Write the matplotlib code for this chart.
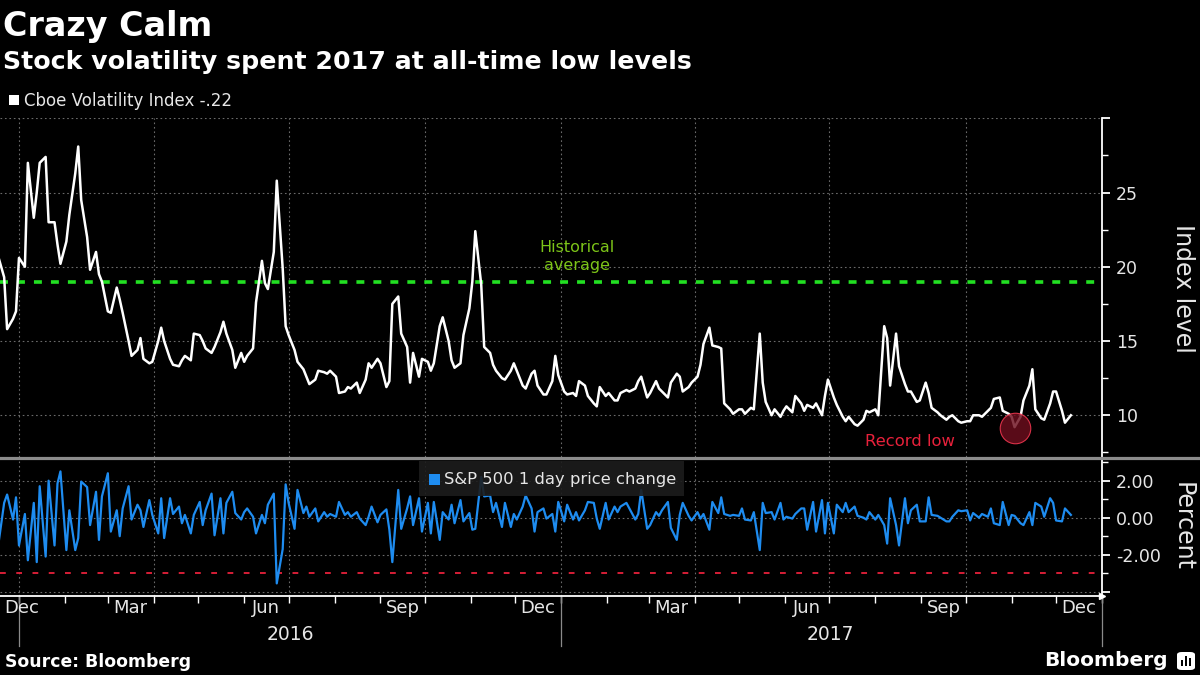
import numpy as np
import pandas as pd
import matplotlib
matplotlib.use("Agg")
import matplotlib.pyplot as plt
import matplotlib.dates as mdates
import matplotlib.ticker as mticker
import matplotlib.transforms as mtransforms
from matplotlib.lines import Line2D
from matplotlib.patches import Rectangle, FancyBboxPatch

plt.rcParams["font.family"] = ["DejaVu Sans"]
plt.rcParams["axes.unicode_minus"] = False

# ---------------- text ----------------
title = "Crazy Calm"
subtitle = "Stock volatility spent 2017 at all-time low levels"
vix_label = "Cboe Volatility Index -.22"
spx_label = "S&P 500 1 day price change"
source_text = "Source: Bloomberg"
brand = "Bloomberg"
avg_label = ["Historical", "average"]
low_label = "Record low"
vix_axis_label = "Index level"
spx_axis_label = "Percent"

# ---------------- data ----------------
start_date = "2015-12-18"   # one value every 2 business days

vix = [
    20.7, 19.3, 15.8, 16.5, 17.0, 20.6, 20.0, 27.0, 23.3, 25.0, 27.0, 27.4, 23.0, 23.0, 21.5, 20.2,
    21.7, 23.5, 26.3, 28.1, 24.5, 22.0, 19.8, 21.0, 19.5, 19.0, 17.0, 16.9, 18.6, 17.8, 16.9, 15.0,
    14.0, 14.4, 15.2, 13.8, 13.5, 13.6, 15.0, 15.9, 15.0, 13.8, 13.4, 13.3, 13.7, 14.0,
    13.7, 15.5, 15.4, 15.0, 14.5, 14.2, 14.6, 15.6, 16.3, 15.5, 14.4, 13.2, 14.2, 13.6, 14.0, 14.5,
    17.6, 20.4, 18.9, 18.5, 21.0, 25.8, 19.9, 16.0, 15.4, 14.4, 13.6, 13.1, 12.6, 12.1, 12.4, 13.0,
    12.9, 12.8, 13.0, 12.6, 11.5, 11.6, 11.9, 11.8, 12.2, 11.5, 12.4, 13.5,
    13.2, 13.8, 13.5, 11.9, 12.3, 17.5, 18.0, 15.5, 14.6, 12.2, 14.2, 12.6, 13.8, 13.6, 13.0, 13.5,
    16.0, 16.6, 15.0, 13.7, 13.2, 13.5, 15.4, 17.2, 19.0, 22.4, 18.8, 14.6, 14.2, 13.4, 13.0, 12.5,
    12.4, 13.0, 13.5, 13.0, 12.0, 11.8, 12.8, 13.0, 12.0, 11.4, 11.4, 12.3,
    14.0, 12.7, 11.6, 11.4, 11.5, 11.3, 12.3, 12.0, 11.3, 10.8, 10.6, 11.9, 11.3, 11.5, 11.0, 11.0,
    11.5, 11.7, 11.6, 11.8, 12.3, 12.6, 11.2, 11.5, 12.3, 11.8, 11.6, 11.2, 12.2, 12.8, 12.6, 11.6,
    11.9, 12.2, 12.6, 13.4, 14.8, 15.9, 14.7, 14.6, 14.5, 10.8, 10.4, 10.1, 10.4,
    10.4, 10.1, 10.5, 10.4, 15.5, 12.2, 10.9, 10.0, 10.4, 9.9, 10.3, 10.6, 10.2, 11.3, 10.8, 10.3,
    10.7, 10.5, 10.8, 10.0, 11.3, 12.4, 11.2, 10.7, 9.9, 9.6, 9.9, 9.4, 9.3, 9.7, 10.3, 10.2,
    10.4, 10.0, 16.0, 15.2, 12.0, 15.5, 13.3, 12.1, 11.6, 11.6, 10.9, 11.0,
    12.2, 11.5, 10.5, 10.2, 10.0, 9.7, 9.9, 10.0, 9.6, 9.5, 9.6, 9.6, 10.0, 10.0, 9.9, 10.3,
    10.5, 11.1, 11.2, 10.3, 10.1, 9.9, 9.2, 9.9, 11.0, 12.0, 13.1, 10.4, 9.8, 9.7, 10.8, 11.6,
    11.6, 10.3, 9.5, 10.0,
]

spx = [
    -1.5, 0.8, 1.25, -0.1, 1.1, -1.5, 0.2, -2.3, 0.8, -2.4, 1.7, -2.1, 2.0, -1.5, 1.85, 2.5,
    -1.75, 0.4, -1.75, -1.1, 1.95, 1.65, -0.4, 1.4, -1.2, 1.15, 2.4, -0.75, 0.4, -1.0, 0.5, 1.7,
    -0.1, 0.7, 0.4, -0.5, 0.95, 0.15, -0.85, 1.05, -1.1, 1.05, 0.2, 0.6, -0.3, 0.15,
    -0.85, 0.15, 0.85, -0.4, 0.4, 1.3, -0.95, 1.05, -0.85, 0.8, 1.4, 0.25, -0.1, 0.3, 0.5, 0.05,
    -0.85, 0.15, -0.3, 0.7, 1.3, -3.55, -1.7, 1.8, 0.8, -0.6, 1.5, 0.25, 0.6, 0.05, 0.5, -0.2,
    0.3, 0.05, 0.2, 0.05, 0.85, 0.15, 0.3, 0.05, 0.3, -0.05, -0.4, 0.05,
    0.6, -0.25, 0.15, 0.45, -0.65, -2.4, 1.5, -0.6, 0.5, 1.15, -0.4, 1.05, -0.75, 0.8, -0.85, 0.85,
    -1.2, 0.3, -0.1, 0.7, -0.3, 0.95, -0.2, 0.25, -0.65, -0.6, 2.2, 1.15, 1.2, 0.3, 0.8, -0.5,
    0.8, -0.5, 0.2, -0.1, 0.6, 1.2, 0.5, -0.75, 0.3, 0.5, -0.05, 0.2,
    -0.75, 0.85, -0.2, 0.7, -0.1, 0.3, -0.15, 0.4, 0.85, 0.8, -0.05, -0.6, 0.8, -0.1, 0.6, 0.3,
    0.6, 0.8, 0.5, -0.1, 0.2, 1.5, -0.6, -0.4, 0.3, 0.1, 0.4, 0.85, -0.55, -1.2, 0.15, 0.8,
    0.1, -0.15, 0.3, -0.05, 0.2, -0.65, 0.85, 0.25, 1.1, 0.2, 0.1, 0.15, 0.1,
    0.5, -0.1, -0.15, 0.3, -1.75, 0.8, 0.25, 0.3, -0.1, 0.8, -0.1, 0.05, -0.05, 0.2, 0.5, 0.5,
    -0.65, 0.85, -0.75, 0.95, -0.85, 0.8, -0.85, 0.7, 0.3, 0.8, 0.3, 0.6, 0.1, 0.0, -0.1, 0.3,
    -0.1, 0.15, -0.4, -1.4, 1.05, -0.4, -1.5, 1.05, -0.3, 0.4, 0.7, -0.2,
    -0.2, 1.1, 0.15, 0.1, 0.0, -0.2, -0.2, 0.05, 0.4, 0.35, 0.4, -0.15, 0.25, 0.0, 0.2, 0.05,
    0.5, -0.3, -0.4, 0.85, -0.4, 0.15, 0.1, -0.3, -0.4, 0.3, -0.4, 0.8, 0.6, 0.05, 1.05, 0.8,
    -0.15, -0.2, 0.5, 0.15,
]

hist_avg = 19.0
spx_ref_level = -3.0
record_low_date = "2017-11-03"
record_low_value = 9.14

vix_major = [10, 15, 20, 25, 30]
vix_major_labels = ["10", "15", "20", "25", ""]
vix_minor = [7.5, 12.5, 17.5, 22.5, 27.5]
spx_major = [-4, -2, 0, 2]
spx_major_labels = ["", "-2.00", "0.00", "2.00"]
spx_minor = [-3, -1, 1, 3]

month_labels = ["Dec", "Mar", "Jun", "Sep", "Dec", "Mar", "Jun", "Sep", "Dec"]
month_label_dates = ["2015-12-16", "2016-03-16", "2016-06-16", "2016-09-16", "2016-12-16",
                     "2017-03-16", "2017-06-16", "2017-09-16", "2017-12-16"]
year_labels = ["2016", "2017"]
year_label_dates = ["2016-07-02", "2017-07-02"]
year_bounds = ["2016-01-01", "2017-01-01", "2018-01-01"]
grid_dates = ["2016-01-01", "2016-04-01", "2016-07-01", "2016-10-01",
              "2017-01-01", "2017-04-01", "2017-07-01", "2017-10-01"]
x_start = pd.Timestamp("2016-01-01") - pd.Timedelta(days=12.8)
x_end = pd.Timestamp("2018-01-01")

# ---------------- style ----------------
BG = "#000000"
WHITE = "#ffffff"
TXT = "#e6e6e6"
GRID = "#6a6a6a"
BLUE = "#1e8cf0"
GREEN = "#22e022"
GREEN_TXT = "#7cc418"
RED = "#e8213b"

vix_dates = pd.bdate_range(start_date, periods=len(vix), freq="2B")
spx_dates = pd.bdate_range(start_date, periods=len(spx), freq="2B")

W, H = 1200, 675
def fx(px):
    return px / W
def fy(py):
    return 1 - py / H

fig = plt.figure(figsize=(12, 6.75), dpi=100, facecolor=BG)

ax1 = fig.add_axes([0, fy(457), fx(1102), fy(118.3) - fy(457)])
ax2 = fig.add_axes([0, fy(596), fx(1102), fy(459) - fy(596)])

for ax in (ax1, ax2):
    ax.set_facecolor(BG)
    for s in ax.spines.values():
        s.set_visible(False)
    ax.spines["right"].set_visible(True)
    ax.spines["right"].set_color(WHITE)
    ax.spines["right"].set_linewidth(1.3)
    ax.set_xlim(x_start, x_end)
    ax.yaxis.tick_right()
    ax.tick_params(axis="y", which="both", colors=WHITE, direction="out", labelcolor=TXT,
                   labelsize=12.5, pad=4)
    ax.tick_params(axis="y", which="major", length=6, width=1.3)
    ax.tick_params(axis="y", which="minor", length=4, width=1.0)
    for d in grid_dates:
        ax.axvline(pd.Timestamp(d), color=GRID, lw=0.8, ls=(0, (1.5, 2.5)), zorder=0)

# ---- top panel: VIX ----
ax1.set_ylim(7.19, 30)
ax1.set_yticks(vix_major)
ax1.set_yticklabels(vix_major_labels)
ax1.set_yticks(vix_minor, minor=True)
for v in vix_major:
    ax1.axhline(v, color=GRID, lw=0.8, ls=(0, (1.5, 2.5)), zorder=0)
ax1.tick_params(axis="x", which="both", bottom=False, labelbottom=False)

ax1.axhline(hist_avg, color=GREEN, lw=2.6, dashes=(2.2, 2.5), zorder=2,
            xmax=1 - 5 / 1102)
ax1.plot(vix_dates, vix, color=WHITE, lw=1.8, zorder=3)
ax1.plot(pd.Timestamp(record_low_date), record_low_value, "o", ms=22,
         mfc="#6d0e1e", mec="#ff3a55", mew=0.8, alpha=0.82, zorder=4)

# ---- bottom panel: S&P ----
ax2.set_ylim(-4.23, 3.17)
ax2.set_yticks(spx_major)
ax2.set_yticklabels(spx_major_labels)
ax2.set_yticks(spx_minor, minor=True)
for v in spx_major:
    ax2.axhline(v, color=GRID, lw=0.8, ls=(0, (1.5, 2.5)), zorder=0)
ax2.axhline(spx_ref_level, color=RED, lw=1.3, dashes=(3.2, 5.8), zorder=1,
            xmax=1 - 5 / 1102)
ax2.plot(spx_dates, spx, color=BLUE, lw=1.6, zorder=3)

ax2.spines["bottom"].set_visible(True)
ax2.spines["bottom"].set_color(WHITE)
ax2.spines["bottom"].set_linewidth(1.3)
ax2.xaxis.set_major_locator(mdates.MonthLocator())
ax2.xaxis.set_major_formatter(mticker.NullFormatter())
ax2.tick_params(axis="x", which="major", colors=WHITE, direction="out", length=5, width=1.0)
ax2.plot([x_end], [-4.23], marker=">", ms=5, color=WHITE, clip_on=False, zorder=5)

# month / year labels
tr = mtransforms.blended_transform_factory(ax2.transData, fig.transFigure)
for i, (lab, d) in enumerate(zip(month_labels, month_label_dates)):
    if i == 0:
        fig.text(fx(4), fy(608), lab, ha="left", va="center", color=TXT, fontsize=13)
    else:
        ax2.text(pd.Timestamp(d), fy(608), lab, transform=tr, ha="center", va="center",
                 color=TXT, fontsize=13, clip_on=False)
for lab, d in zip(year_labels, year_label_dates):
    ax2.text(pd.Timestamp(d), fy(634), lab, transform=tr, ha="center", va="center",
             color=TXT, fontsize=13.5, clip_on=False)
for d in year_bounds:
    ax2.add_line(Line2D([pd.Timestamp(d)] * 2, [fy(597), fy(646)], transform=tr,
                        color="#8a8a8a", lw=0.9, clip_on=False))

# separator between panels
fig.add_artist(Line2D([0, 1], [fy(457.8)] * 2, transform=fig.transFigure,
                      color="#8c8c8c", lw=2.3, zorder=2))

# ---------------- titles / legends / annotations ----------------
fig.text(fx(3), fy(36), title, color=WHITE, fontsize=24, fontweight="bold", va="baseline")
fig.text(fx(3), fy(69), subtitle, color=WHITE, fontsize=18.2, fontweight="bold", va="baseline")

fig.add_artist(Rectangle((fx(9), fy(105)), fx(10), 10 / H, transform=fig.transFigure,
                         facecolor=WHITE, edgecolor="none"))
fig.text(fx(24), fy(100.5), vix_label, color=TXT, fontsize=12, va="center")

fig.add_artist(Rectangle((fx(419), fy(496)), fx(265), 35 / H, transform=fig.transFigure,
                         facecolor="#1c1c1c", edgecolor="none", alpha=0.9, zorder=3))
fig.add_artist(Rectangle((fx(429), fy(485)), fx(11), 11 / H, transform=fig.transFigure,
                         facecolor=BLUE, edgecolor="none", zorder=4))
fig.text(fx(444), fy(479.5), spx_label, color=TXT, fontsize=11.8, va="center", zorder=4)

fig.text(fx(577), fy(247), avg_label[0], color=GREEN_TXT, fontsize=11.5, ha="center", va="center")
fig.text(fx(577), fy(266), avg_label[1], color=GREEN_TXT, fontsize=11.5, ha="center", va="center")
fig.text(fx(910), fy(441), low_label, color=RED, fontsize=11.8, ha="center", va="center")

fig.text(fx(1183), fy(288), vix_axis_label, color=TXT, fontsize=17, rotation=270,
         ha="center", va="center")
fig.text(fx(1183), fy(527), spx_axis_label, color=TXT, fontsize=17, rotation=270,
         ha="center", va="center")

fig.text(fx(5), fy(662), source_text, color=WHITE, fontsize=12.4, fontweight="bold", va="center")
fig.text(fx(1168), fy(661), brand, color=WHITE, fontsize=14.5, fontweight="bold",
         ha="right", va="center")
fig.add_artist(FancyBboxPatch((fx(1177), fy(670)), fx(18), 18 / H, transform=fig.transFigure,
                              boxstyle="round,pad=0,rounding_size=0.004",
                              facecolor=WHITE, edgecolor="none"))
for bx, bh in [(1181, 6), (1185, 10), (1189, 8)]:
    fig.add_artist(Rectangle((fx(bx), fy(666)), fx(2.2), bh / H, transform=fig.transFigure,
                             facecolor=BG, edgecolor="none"))

fig.savefig("out.png", dpi=100, facecolor=BG)
